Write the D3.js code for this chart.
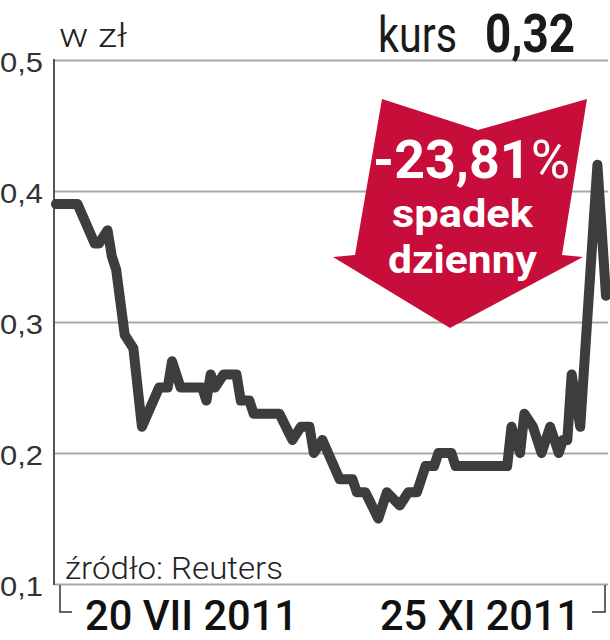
<!DOCTYPE html>
<html>
<head>
<meta charset="utf-8">
<script src="https://cdn.jsdelivr.net/npm/d3@7"></script>
<style>
  body { margin: 0; background: #fff; }
  svg { display: block; font-family: Roboto, "Liberation Sans", sans-serif; }
</style>
</head>
<body>
<svg id="chart" width="610" height="640"></svg>
<script>
// kurs w zł, sesje od 20 VII do 25 XI 2011
var dates = ["2011-07-20", "2011-07-25", "2011-07-29", "2011-07-30", "2011-08-01", "2011-08-02",
    "2011-08-03", "2011-08-05", "2011-08-07", "2011-08-09", "2011-08-13", "2011-08-15",
    "2011-08-16", "2011-08-18", "2011-08-23", "2011-08-24", "2011-08-25", "2011-08-26",
    "2011-08-28", "2011-08-31", "2011-09-01", "2011-09-03", "2011-09-04", "2011-09-10",
    "2011-09-13", "2011-09-15", "2011-09-17", "2011-09-18", "2011-09-20", "2011-09-24",
    "2011-09-27", "2011-09-28", "2011-09-30", "2011-10-03", "2011-10-05", "2011-10-08",
    "2011-10-10", "2011-10-12", "2011-10-14", "2011-10-16", "2011-10-17", "2011-10-20",
    "2011-10-21", "2011-11-02", "2011-11-03", "2011-11-05", "2011-11-06", "2011-11-08",
    "2011-11-10", "2011-11-12", "2011-11-14", "2011-11-15", "2011-11-16", "2011-11-17",
    "2011-11-19", "2011-11-23", "2011-11-25"];
var values = [0.39, 0.39, 0.36, 0.36, 0.37, 0.35,
    0.34, 0.29, 0.28, 0.22, 0.25, 0.25,
    0.27, 0.25, 0.25, 0.24, 0.26, 0.25,
    0.26, 0.26, 0.24, 0.24, 0.23, 0.23,
    0.21, 0.22, 0.22, 0.20, 0.21, 0.18,
    0.18, 0.17, 0.17, 0.15, 0.17, 0.16,
    0.17, 0.17, 0.19, 0.19, 0.20, 0.20,
    0.19, 0.19, 0.22, 0.20, 0.23, 0.22,
    0.20, 0.22, 0.20, 0.21, 0.21, 0.26,
    0.22, 0.42, 0.32];
var yTicks = [0.1, 0.2, 0.3, 0.4, 0.5];
var rangeLabels = ["20 VII 2011", "25 XI 2011"];
var unitLabel = "w zł";
var lastLabel = "kurs";
var lastValue = "0,32";
var changeLabel = "-23,81";
var changeLines = ["spadek", "dzienny"];
var sourceLabel = "źródło: Reuters";

var parse = d3.timeParse("%Y-%m-%d");
var data = dates.map((d, i) => ({ date: parse(d), value: values[i] }));

var svg = d3.select('#chart'),
    plotL = 54, plotR = 606, plotT = 60, plotB = 584;

var x = d3.scaleTime()
    .domain([parse(dates[0]), parse(dates[dates.length - 1])])
    .range([plotL + 2, plotR]);
var y = d3.scaleLinear()
    .domain([0.1, 0.5])
    .range([plotB, plotT]);

// siatka i etykiety osi Y
var yAxis = svg.append('g')
    .attr('transform', 'translate(' + plotL + ',0)')
    .call(d3.axisLeft(y)
        .tickValues(yTicks)
        .tickSize(-(plotR + 2 - plotL))
        .tickFormat(d => d3.format('.1f')(d).replace('.', ',')));
yAxis.select('.domain').remove();
yAxis.selectAll('.tick line')
    .attr('stroke', '#a8a8a8')
    .attr('stroke-width', 2);
yAxis.selectAll('.tick text')
    .attr('x', -plotL)
    .attr('dy', '0.42em')
    .attr('text-anchor', 'start')
    .attr('textLength', 43)
    .attr('lengthAdjust', 'spacingAndGlyphs')
    .style('font-size', '28px')
    .style('font-weight', 300)
    .attr('fill', '#333');

svg.append('line')
    .attr('x1', plotL).attr('x2', plotL)
    .attr('y1', y(0.5) - 1).attr('y2', y(0.1) + 1)
    .attr('stroke', '#555')
    .attr('stroke-width', 2);

// strzałka
var arrow = [[382, 99], [478, 130], [587, 99], [562, 255], [583, 257], [450, 328], [333, 257], [355, 255]];
svg.append('path')
    .attr('d', d3.line()(arrow) + 'Z')
    .attr('fill', '#c70d3a');

var t1 = svg.append('text')
    .attr('x', 373).attr('y', 178)
    .attr('fill', '#fff')
    .attr('textLength', 197)
    .attr('lengthAdjust', 'spacingAndGlyphs')
    .style('font-size', '53px')
    .style('font-weight', 700);
t1.append('tspan').text(changeLabel);
t1.append('tspan').style('font-weight', 400).text('%');

svg.selectAll('.arrow-line')
    .data(changeLines)
    .enter()
    .append('text')
    .attr('x', (d, i) => i == 0 ? 392 : 388)
    .attr('y', (d, i) => 227 + i * 46)
    .attr('textLength', (d, i) => i == 0 ? 141 : 149)
    .attr('lengthAdjust', 'spacingAndGlyphs')
    .attr('fill', '#fff')
    .style('font-size', '38px')
    .style('font-weight', 700)
    .text(d => d);

// linia kursu
svg.append('path')
    .datum(data)
    .attr('d', d3.line().x(d => x(d.date)).y(d => y(d.value)))
    .attr('fill', 'none')
    .attr('stroke', '#3d3d3d')
    .attr('stroke-width', 10)
    .attr('stroke-linejoin', 'round')
    .attr('stroke-linecap', 'round');

// nagłówek
svg.append('text')
    .attr('x', 59).attr('y', 47)
    .attr('textLength', 68).attr('lengthAdjust', 'spacingAndGlyphs')
    .attr('fill', '#222')
    .style('font-size', '33px').style('font-weight', 300)
    .text(unitLabel);
svg.append('text')
    .attr('x', 378).attr('y', 52)
    .attr('textLength', 79).attr('lengthAdjust', 'spacingAndGlyphs')
    .attr('fill', '#1a1a1a')
    .style('font-size', '50px').style('font-weight', 400)
    .text(lastLabel);
svg.append('text')
    .attr('x', 485).attr('y', 52)
    .attr('textLength', 90).attr('lengthAdjust', 'spacingAndGlyphs')
    .attr('fill', '#1a1a1a')
    .style('font-size', '54px').style('font-weight', 700)
    .text(lastValue);

// źródło
svg.append('text')
    .attr('x', 65).attr('y', 579)
    .attr('textLength', 218).attr('lengthAdjust', 'spacingAndGlyphs')
    .attr('fill', '#222')
    .style('font-size', '32px').style('font-weight', 300)
    .text(sourceLabel);

// zakres dat
svg.append('path')
    .attr('d', 'M60,' + (plotB + 1) + 'V612H72M' + (plotR - 1) + ',' + (plotB + 1) + 'V612H592')
    .attr('fill', 'none')
    .attr('stroke', '#333')
    .attr('stroke-width', 1.5);
svg.selectAll('.range')
    .data(rangeLabels)
    .enter()
    .append('text')
    .attr('x', (d, i) => i == 0 ? 85 : 380)
    .attr('y', 630)
    .attr('textLength', (d, i) => i == 0 ? 213 : 200)
    .attr('lengthAdjust', 'spacingAndGlyphs')
    .attr('fill', '#111')
    .style('font-size', '42px')
    .style('font-weight', 500)
    .text(d => d);
</script>
</body>
</html>
